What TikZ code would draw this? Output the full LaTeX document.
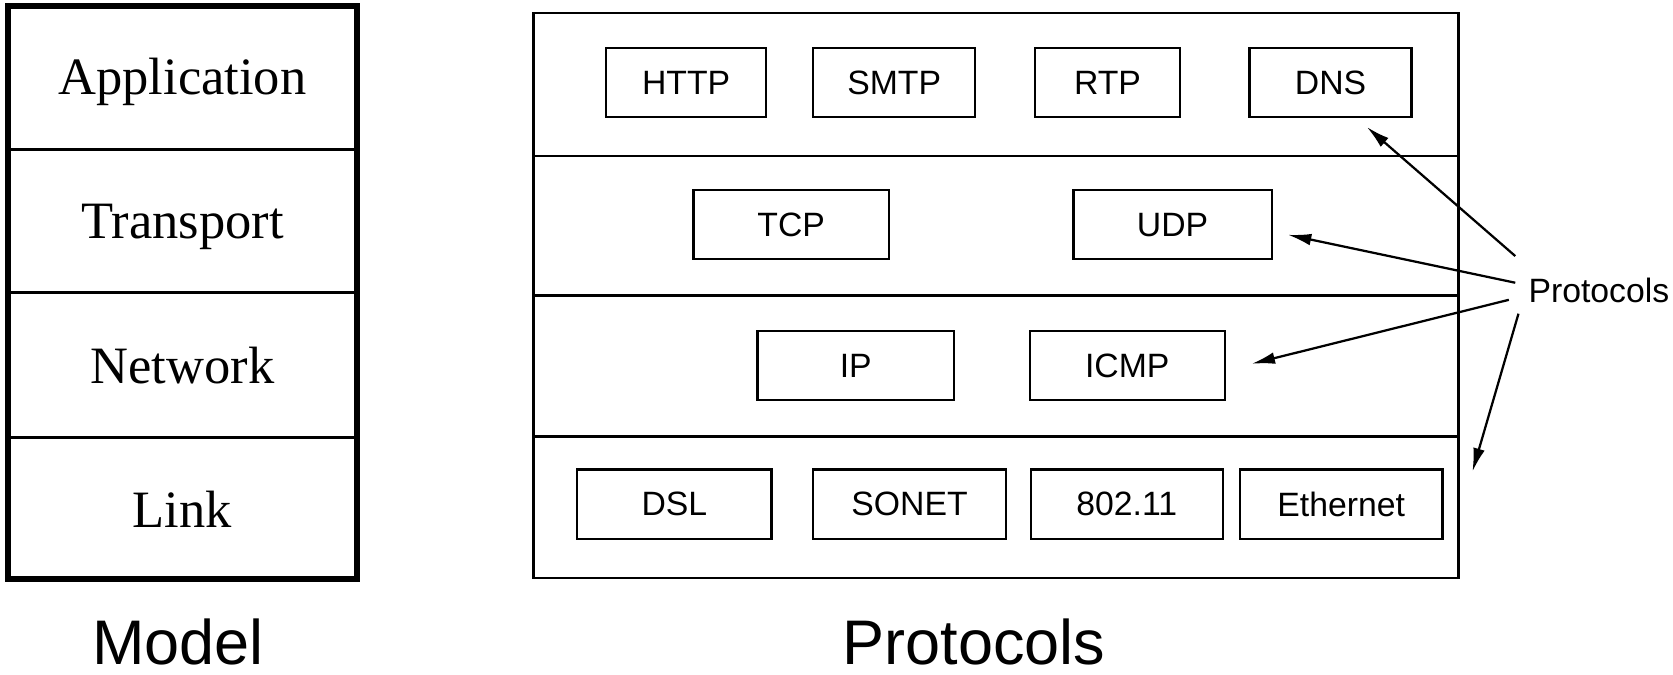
\documentclass[tikz,border=0pt]{standalone}
\usepackage{fontspec}
\setmainfont{Liberation Serif}
\setsansfont{Liberation Sans}
\usetikzlibrary{arrows.meta,calc}

\begin{document}
\begin{tikzpicture}[
  proto/.style={draw,line width=0.6pt,minimum height=0.65cm,inner sep=0pt,
    font=\sffamily\fontsize{9}{10}\selectfont},
  layer/.style={anchor=base,font=\fontsize{14}{16}\selectfont},
  heading/.style={anchor=base,font=\sffamily\fontsize{16.8}{19}\selectfont},
  pointer/.style={-{Latex[length=2.2mm,width=1.1mm]},line width=0.6pt}
]
\useasboundingbox (0,0) rectangle (15.68,6.32);
% model stack
\draw[line width=1.6pt] (0.078,0.898) rectangle (3.343,6.262);
\draw[line width=0.8pt] (0.078,4.92) -- (3.343,4.92);
\draw[line width=0.8pt] (0.078,3.58) -- (3.343,3.58);
\draw[line width=0.8pt] (0.078,2.22) -- (3.343,2.22);
\node[layer] (app) at (1.71,5.43) {Application};
\node[layer] (trans) at (1.71,4.08) {Transport};
\node[layer] (net) at (1.71,2.73) {Network};
\node[layer] (link) at (1.71,1.38) {Link};
\node[heading] (model) at (1.67,0.095) {Model};
% protocol stack
\draw[line width=0.6pt] (5.00,0.90) rectangle (13.67,6.20);
\draw[line width=0.6pt] (5.00,4.86) -- (13.67,4.86);
\draw[line width=0.6pt] (5.00,3.55) -- (13.67,3.55);
\draw[line width=0.6pt] (5.00,2.23) -- (13.67,2.23);
\node[proto,minimum width=1.50cm] (http) at (6.43,5.545) {HTTP};
\node[proto,minimum width=1.52cm] (smtp) at (8.38,5.545) {SMTP};
\node[proto,minimum width=1.36cm] (rtp) at (10.38,5.545) {RTP};
\node[proto,minimum width=1.52cm] (dns) at (12.47,5.545) {DNS};
\node[proto,minimum width=1.83cm] (tcp) at (7.415,4.215) {TCP};
\node[proto,minimum width=1.86cm] (udp) at (10.99,4.215) {UDP};
\node[proto,minimum width=1.84cm] (ip) at (8.02,2.895) {IP};
\node[proto,minimum width=1.83cm] (icmp) at (10.565,2.895) {ICMP};
\node[proto,minimum width=1.82cm] (dsl) at (6.32,1.595) {DSL};
\node[proto,minimum width=1.81cm] (sonet) at (8.525,1.595) {SONET};
\node[proto,minimum width=1.80cm] (wifi) at (10.56,1.595) {802.11};
\node[proto,minimum width=1.90cm] (ether) at (12.57,1.595) {Ethernet};
\node[heading] (protos) at (9.13,0.095) {Protocols};
% pointers
\node[font=\sffamily\fontsize{9}{10}\selectfont] (lbl) at (14.985,3.60) {Protocols};
\coordinate (dnsTip) at (12.81,5.13);
\coordinate (udpTip) at (12.07,4.12);
\coordinate (icmpTip) at (11.73,2.91);
\coordinate (linkTip) at (13.80,1.90);
\draw[pointer] ($(lbl.west)+(0,0.32)$) -- (dnsTip);
\draw[pointer] ($(lbl.west)+(0,0.07)$) -- (udpTip);
\draw[pointer] ($(lbl.west)+(-0.06,-0.09)$) -- (icmpTip);
\draw[pointer] ($(lbl.west)+(0.03,-0.22)$) -- (linkTip);
\end{tikzpicture}
\end{document}
